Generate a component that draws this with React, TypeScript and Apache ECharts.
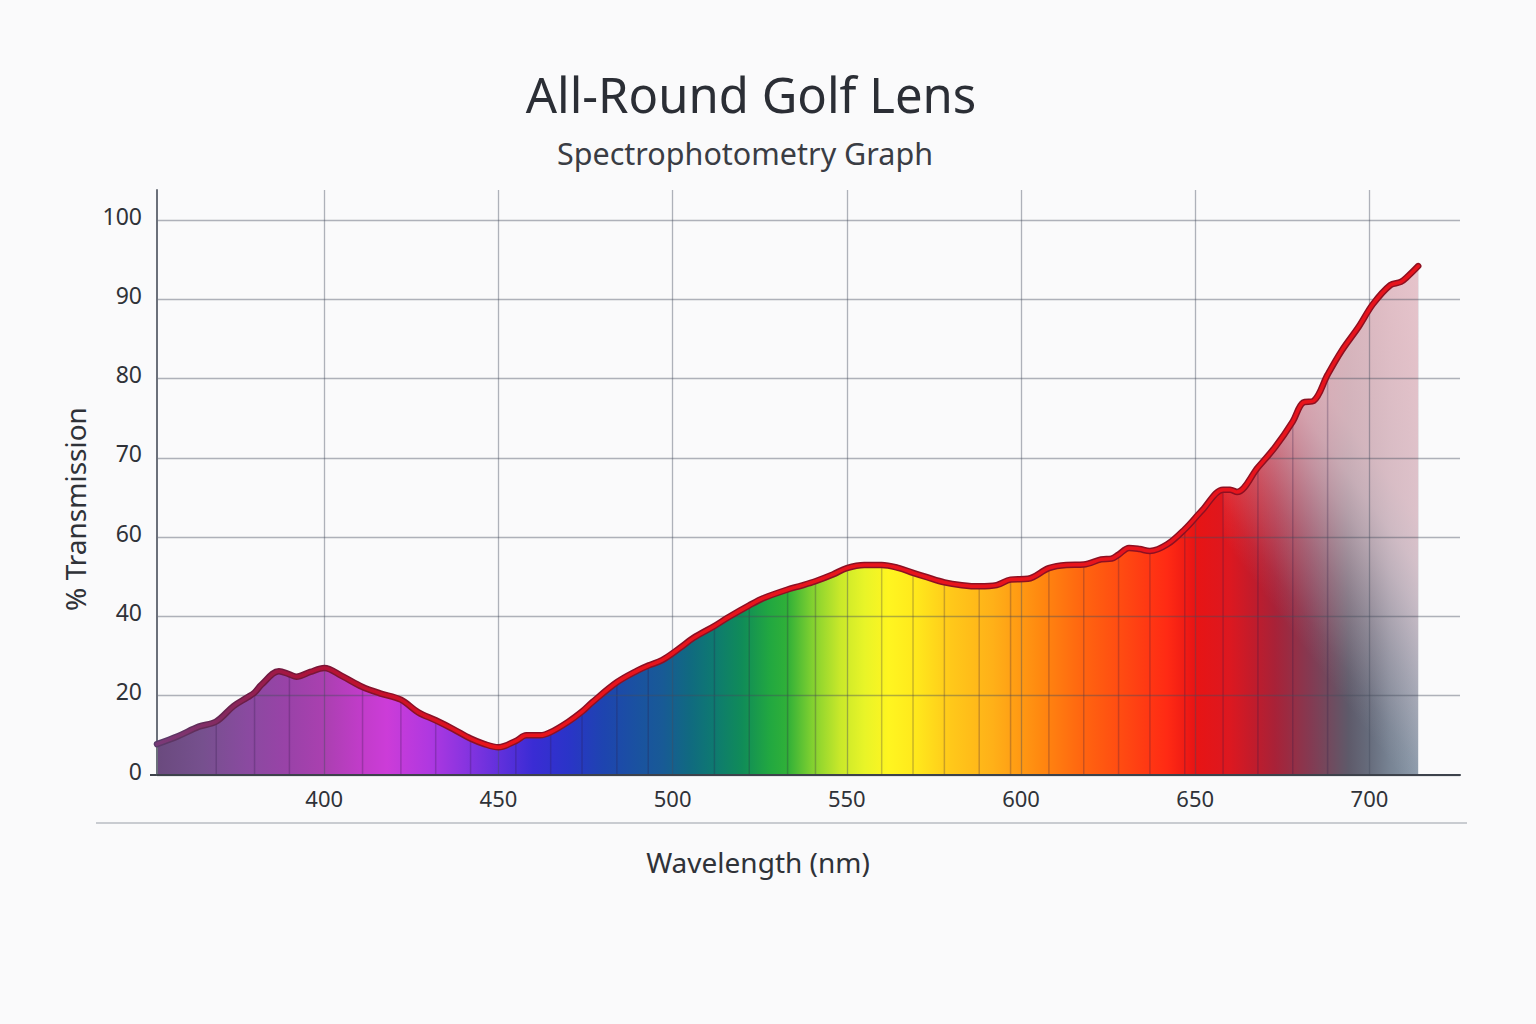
import { useEffect, useRef } from 'react'
import * as echarts from 'echarts'

// wavelength (nm) and % transmission
const wavelengths = [
  352, 358, 364, 369, 374, 378, 380, 382, 387, 390, 392, 396, 400, 405, 411, 416, 422, 427, 432, 437,
  442, 446, 450, 455, 458, 462, 465, 470, 474, 477, 484, 490, 493, 497, 502, 506, 512, 516, 522, 526,
  533, 537, 541, 546, 550, 555, 560, 565, 569, 573, 578, 583, 588, 593, 597, 602, 608, 613, 618, 623,
  626, 628, 631, 634, 637, 642, 647, 652, 658, 660, 662, 668, 673, 678, 681, 684, 688, 692, 697, 701,
  706, 709, 711, 714,
]
const transmission = [
  7.8, 9.8, 12.2, 13.5, 17.4, 19.6, 20.8, 22.8, 26.2, 25.4, 24.8, 26, 27, 25, 22.2, 20.6, 19, 15.8, 13.8, 11.6,
  9.2, 7.8, 7, 8.6, 10, 10, 10.8, 13.4, 16, 18.4, 23.4, 26.4, 27.6, 29, 32, 34.6, 37.6, 39.8, 42.8, 44.6,
  46.8, 47.8, 48.9, 50.6, 52.2, 53, 53, 52.2, 51, 49.9, 48.6, 47.9, 47.6, 47.9, 49.3, 49.5, 52.2, 53, 53.1, 54.4,
  54.6, 55.6, 57.3, 57, 56.5, 58.2, 61, 63.4, 66, 66, 65.7, 68.8, 71.4, 74.6, 77, 77.2, 80.5, 83.5, 86.6, 89.4,
  91.8, 92.2, 92.9, 94.2,
]
// thin vertical stripes inside the filled area
const stripeWavelengths = [
  369, 380, 390, 411, 422, 432, 442, 455, 465, 474, 484, 493, 512, 522, 533, 541, 560, 569, 578, 588,
  597, 608, 618, 628, 637, 647, 658, 668, 678, 688,
]
// the pale wash over the red end starts at this wavelength
const washFrom = 658
const xTickValues = [400, 450, 500, 550, 600, 650, 700]
const yTickLabels = ['0', '20', '40', '60', '70', '80', '90', '100']

const spectrumStops: [number, string][] = [
  [352, '#6a4a7e'], [365, '#76508e'], [378, '#8a4aa0'], [390, '#9a42a8'], [400, '#aa40b0'],
  [410, '#c03cc8'], [418, '#cc3cd8'], [430, '#b038e0'], [440, '#8a34e0'], [450, '#6230dc'],
  [460, '#3a2cd4'], [470, '#2a34c8'], [480, '#1e44b0'], [490, '#1a52a0'], [497, '#185a96'],
  [505, '#106a80'], [512, '#0e7a70'], [520, '#108c58'], [528, '#22a840'], [533, '#30b038'],
  [540, '#80d030'], [548, '#c8e82a'], [555, '#e8f428'], [562, '#fff520'], [570, '#ffe81c'],
  [580, '#ffc81a'], [592, '#ffb018'], [605, '#ff8a10'], [618, '#ff6410'], [630, '#ff4812'],
  [642, '#ff2a14'], [650, '#e81414'], [660, '#dc1820'], [667, '#c01c2c'], [673, '#a82238'],
  [683, '#843a52'], [694, '#5e5a6a'], [700, '#666c7c'], [706, '#788494'], [714, '#8a9aaa'],
]

const lineStops: [number, string][] = [
  [352, '#7a3a78'], [372, '#86285e'], [392, '#a8143e'], [420, '#cc1028'], [445, '#e8141c'], [714, '#e8141c'],
]
const outlineStops: [number, string][] = [
  [352, '#5a3a6a'], [380, '#6c1a44'], [420, '#8a1026'], [714, '#8e1020'],
]

const fontFamily = '"Noto Sans", "Open Sans", sans-serif'

// the printed y ticks are evenly spaced but not linear (0,20,40,60,70,...)
function toAxisUnits(pct: number) {
  const levels = yTickLabels.map(Number)
  for (let i = 1; i < levels.length; i++) {
    if (pct <= levels[i]) {
      return i - 1 + (pct - levels[i - 1]) / (levels[i] - levels[i - 1])
    }
  }
  return levels.length - 1
}

export default function App() {
  const chartRef = useRef<HTMLDivElement | null>(null)

  useEffect(() => {
    if (!chartRef.current) {
      return
    }

    const chart = echarts.init(chartRef.current, undefined, { renderer: 'svg' })

    const points = wavelengths.map((w, i) => [w, toAxisUnits(transmission[i])])
    const stripePoints = stripeWavelengths.map((w) => points[wavelengths.indexOf(w)])
    const washPoints = points.slice(wavelengths.indexOf(washFrom))
    const first = wavelengths[0]
    const last = wavelengths[wavelengths.length - 1]
    const horizontal = (stops: [number, string][]) =>
      new echarts.graphic.LinearGradient(
        0,
        0,
        1,
        0,
        stops.map(([nm, color]) => ({ offset: (nm - first) / (last - first), color })),
      )

    // diagonal wash, brighter toward the top right (fractions of its own box)
    const wash = new echarts.graphic.LinearGradient(0.4923, 0.7898, 0.9433, -0.0932, [
      { offset: 0, color: 'rgba(246,212,218,0)' },
      { offset: 0.059, color: 'rgba(246,212,218,0.06)' },
      { offset: 0.118, color: 'rgba(246,212,218,0.16)' },
      { offset: 0.191, color: 'rgba(246,212,218,0.28)' },
      { offset: 0.265, color: 'rgba(246,212,218,0.42)' },
      { offset: 0.338, color: 'rgba(246,212,218,0.56)' },
      { offset: 0.412, color: 'rgba(246,210,216,0.68)' },
      { offset: 0.5, color: 'rgba(246,206,212,0.76)' },
      { offset: 0.765, color: 'rgba(246,202,208,0.82)' },
      { offset: 1, color: 'rgba(246,204,210,0.86)' },
    ])

    const yTickValues = yTickLabels.map((_, i) => i)

    chart.setOption({
      animation: false,
      backgroundColor: '#fafafb',
      title: [
        {
          text: 'All-Round Golf Lens',
          left: 751,
          top: 69,
          textAlign: 'center',
          padding: 0,
          textStyle: { fontFamily, fontSize: 49, lineHeight: 50, fontWeight: 'normal', color: '#2b2e35' },
        },
        {
          text: 'Spectrophotometry Graph',
          left: 745,
          top: 137,
          textAlign: 'center',
          padding: 0,
          textStyle: { fontFamily, fontSize: 30.5, lineHeight: 31, fontWeight: 'normal', color: '#3a3d44' },
        },
      ],
      grid: { left: 157, right: 76, top: 190, bottom: 249 },
      xAxis: {
        type: 'value',
        min: 352,
        max: 726,
        z: 3,
        axisLine: { show: true, onZero: false, lineStyle: { color: '#3d424b', width: 2 } },
        axisTick: { show: false, customValues: xTickValues },
        axisLabel: { customValues: xTickValues, margin: 12, fontSize: 22, color: '#2f3238', fontFamily },
        splitLine: { show: true, lineStyle: { color: 'rgba(70,76,92,0.42)', width: 1.3 } },
      },
      yAxis: {
        type: 'value',
        min: 0,
        max: 7.38,
        z: 3,
        axisLine: { show: true, lineStyle: { color: '#6b707a', width: 2 } },
        axisTick: { show: false, customValues: yTickValues },
        axisLabel: {
          customValues: yTickValues,
          formatter: (v: number) => yTickLabels[Math.round(v)],
          margin: 15,
          verticalAlign: 'bottom',
          lineHeight: 9,
          fontSize: 23,
          color: '#2f3238',
          fontFamily,
        },
        splitLine: { show: true, lineStyle: { color: 'rgba(70,76,92,0.42)', width: 1.3 } },
      },
      graphic: [
        {
          type: 'line',
          shape: { x1: 96, y1: 823, x2: 1467, y2: 823 },
          style: { stroke: '#b9bcc3', lineWidth: 1.5 },
        },
        {
          type: 'line',
          shape: { x1: 150, y1: 775, x2: 158, y2: 775 },
          style: { stroke: '#3d424b', lineWidth: 2 },
        },
        {
          type: 'text',
          x: 758,
          y: 862,
          style: {
            text: 'Wavelength (nm)',
            fontFamily,
            fontSize: 28,
            fill: '#2f3238',
            align: 'center',
            verticalAlign: 'middle',
          },
        },
        {
          type: 'text',
          x: 75,
          y: 509,
          rotation: Math.PI / 2,
          style: {
            text: '% Transmission',
            fontFamily,
            fontSize: 28,
            fill: '#2f3238',
            align: 'center',
            verticalAlign: 'middle',
          },
        },
      ],
      series: [
        {
          type: 'line',
          data: points,
          smooth: 0.35,
          showSymbol: false,
          silent: true,
          z: 2,
          lineStyle: { width: 0 },
          areaStyle: { color: horizontal(spectrumStops), opacity: 1 },
        },
        {
          type: 'bar',
          data: stripePoints,
          barWidth: 1.5,
          silent: true,
          z: 2,
          itemStyle: { color: 'rgba(45,28,70,0.26)' },
        },
        {
          type: 'line',
          data: washPoints,
          smooth: 0.35,
          showSymbol: false,
          silent: true,
          z: 2,
          lineStyle: { width: 0 },
          areaStyle: { color: wash, opacity: 1 },
        },
        {
          type: 'line',
          data: points,
          smooth: 0.35,
          showSymbol: false,
          silent: true,
          z: 4,
          lineStyle: { width: 6.5, color: horizontal(outlineStops), cap: 'round', join: 'round' },
        },
        {
          type: 'line',
          data: points,
          smooth: 0.35,
          showSymbol: false,
          silent: true,
          z: 4,
          lineStyle: { width: 3.5, color: horizontal(lineStops), cap: 'round', join: 'round' },
        },
      ],
    })

    return () => {
      chart.dispose()
    }
  }, [])

  return (
    <div
      ref={chartRef}
      style={{ position: 'absolute', left: 0, top: 0, width: 1536, height: 1024 }}
    />
  )
}
